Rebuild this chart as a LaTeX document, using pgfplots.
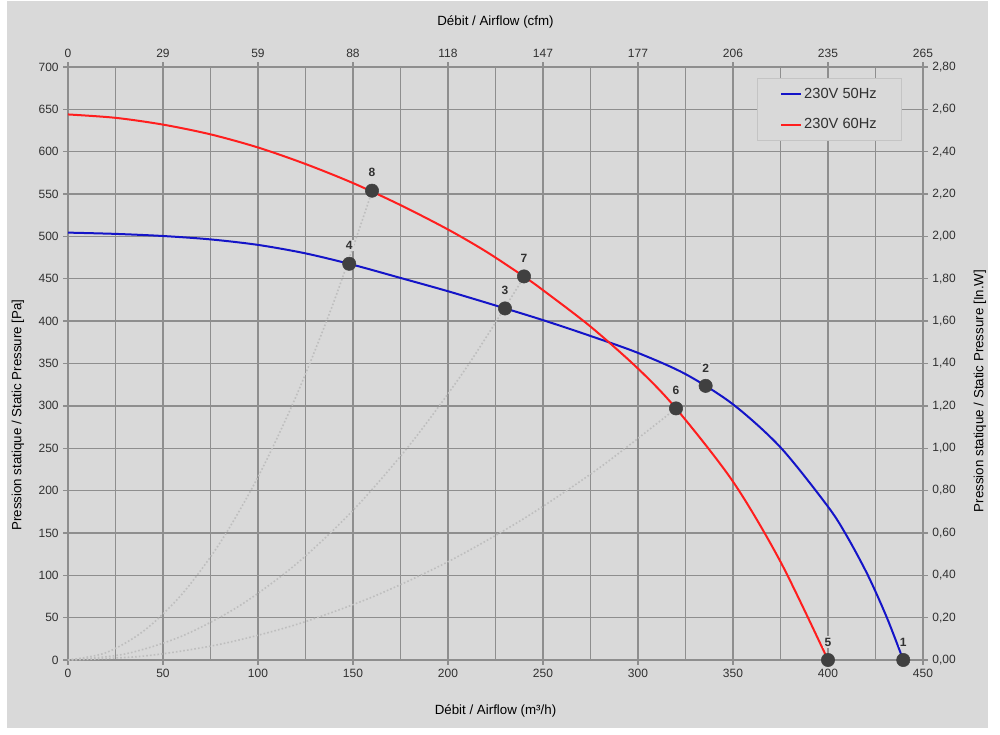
\documentclass[border=0pt]{standalone}
\usepackage{fontspec}
\setmainfont{Liberation Sans}
\usepackage{pgfplots}
\pgfplotsset{compat=1.18}

\definecolor{bg}{HTML}{D9D9D9}
\definecolor{gridc}{HTML}{8E8E8E}
\definecolor{txt}{HTML}{303030}
\definecolor{c50}{HTML}{1414C8}
\definecolor{c60}{HTML}{FF1E1E}
\definecolor{ptc}{HTML}{404040}
\definecolor{dotc}{HTML}{BEBEBE}
\definecolor{legc}{HTML}{C4C4C4}

% fan curves, static pressure [Pa] against airflow [m3/h]
\pgfplotstableread{
x y
0 504.5
25 503
50 500.5
75 496.5
100 490
125 480
150 466.5
175 451
200 435.3
225 418.5
250 401.2
275 382.5
300 362.5
325 337.5
350 301.8
375 251
400 181
410 146
421 100
431 50
439.6 0
}\curveA
\pgfplotstableread{
x y
0 644
25 640
50 632
75 620.5
100 605
125 585.5
150 563
175 537
200 508.2
220 482.2
240 452.6
250 436.6
275 393.6
300 344
320 297
350 210.6
375 116
400 0
}\curveB
% operating points
\pgfplotstableread{
x y lab
439.6 0 1
335.6 323.6 2
230 415 3
148 467.7 4
400 0 5
320 297 6
240 452.8 7
160 554 8
}\points

\pgfplotsset{
  frame/.style={
    width=641.25pt, height=444.75pt, scale only axis,
    at={(51pt,56.25pt)}, anchor=south west,
    xmin=0, xmax=450, ymin=0, ymax=700,
    xtick={0,50,...,450}, ytick={0,50,...,700},
    axis line style={gridc, line width=1pt},
    tick style={gridc, line width=1pt},
    major tick length=3.5pt, tick align=outside,
    ticklabel style={font=\fontsize{9}{10}\selectfont, text=txt},
    label style={font=\fontsize{9}{10}\selectfont, text=txt},
    /pgf/number format/assume math mode=true,
  },
  syscurve/.style={dotc, line width=1.2pt, dash pattern=on 1.2pt off 1.6pt, smooth, forget plot},
}

\begin{document}
\begin{tikzpicture}
\useasboundingbox (0,0) rectangle (750pt,551.25pt);
\fill[white] (0,0) rectangle (750pt,551.25pt);
\fill[bg] (5.25pt,5.25pt) rectangle (741pt,550.5pt);

\begin{axis}[frame,
  clip=false,
  xtick pos=bottom, ytick pos=left,
  minor xtick={25,75,...,425},
  grid=both,
  major grid style={gridc, line width=1pt},
  minor grid style={gridc, line width=1pt},
  minor tick length=0pt,
  xticklabels={0,50,100,150,200,250,300,350,400,450},
  every axis x label/.style={at={(axis description cs:0.5,-0.086)}, anchor=center},
  every axis y label/.style={at={(axis description cs:-0.0585,0.413)}, rotate=90, anchor=center},
  xlabel={Débit / Airflow (m³/h)},
  ylabel={Pression statique / Static Pressure [Pa]},
  legend style={at={(0.9754,0.9815)}, anchor=north east,
    fill=bg, draw=legc, line width=0.75pt,
    font=\fontsize{11}{13}\selectfont, text=txt,
    inner xsep=17pt, inner ysep=5pt, row sep=10pt,
    nodes={inner xsep=1.5pt, inner ysep=2pt}},
  legend cell align=left,
  legend image code/.code={\draw[#1, line width=1.5pt] (0pt,0pt) -- (15pt,0pt);},
]
% system curves through the origin
\addplot[syscurve] coordinates {
  (0,0) (20,8.64) (40,34.56) (60,77.76) (80,138.24) (100,216) (120,311.04) (140,423.36) (160,552.96)};
\addplot[syscurve] coordinates {
  (0,0) (30,7.07) (60,28.26) (90,63.59) (120,113.04) (150,176.63) (180,254.34) (210,346.19) (240,452.16)};
\addplot[syscurve] coordinates {
  (0,0) (40,4.64) (80,18.56) (120,41.76) (160,74.24) (200,116) (240,167.04) (280,227.36) (320,296.96)};

\addplot[c50, line width=1.5pt, smooth, tension=0.5] table[x=x, y=y] {\curveA};
\addlegendentry{230V 50Hz}
\addplot[c60, line width=1.5pt, smooth, tension=0.5] table[x=x, y=y] {\curveB};
\addlegendentry{230V 60Hz}

\addplot[only marks, mark=*, mark size=5pt, mark options={fill=ptc, draw=ptc},
  nodes near coords, point meta=explicit symbolic,
  every node near coord/.append style={anchor=center, yshift=13.5pt,
    font=\fontsize{9}{10}\selectfont\bfseries, text=txt, fill=bg, inner sep=1pt},
  forget plot] table[x=x, y=y, meta=lab] {\points};
\end{axis}

\begin{axis}[frame,
  axis x line*=top, axis y line*=right,
  xticklabels={0,29,59,88,118,147,177,206,235,265},
  yticklabels={{0,00},{0,20},{0,40},{0,60},{0,80},{1,00},{1,20},{1,40},{1,60},{1,80},{2,00},{2,20},{2,40},{2,60},{2,80}},
  every axis x label/.style={at={(axis description cs:0.5,1.0759)}, anchor=center},
  every axis y label/.style={at={(axis description cs:1.0667,0.4536)}, rotate=90, anchor=center},
  xlabel={Débit / Airflow (cfm)},
  ylabel={Pression statique / Static Pressure [In.W]},
]
\addplot[draw=none, forget plot] coordinates {(0,0)};
\end{axis}
\end{tikzpicture}
\end{document}
